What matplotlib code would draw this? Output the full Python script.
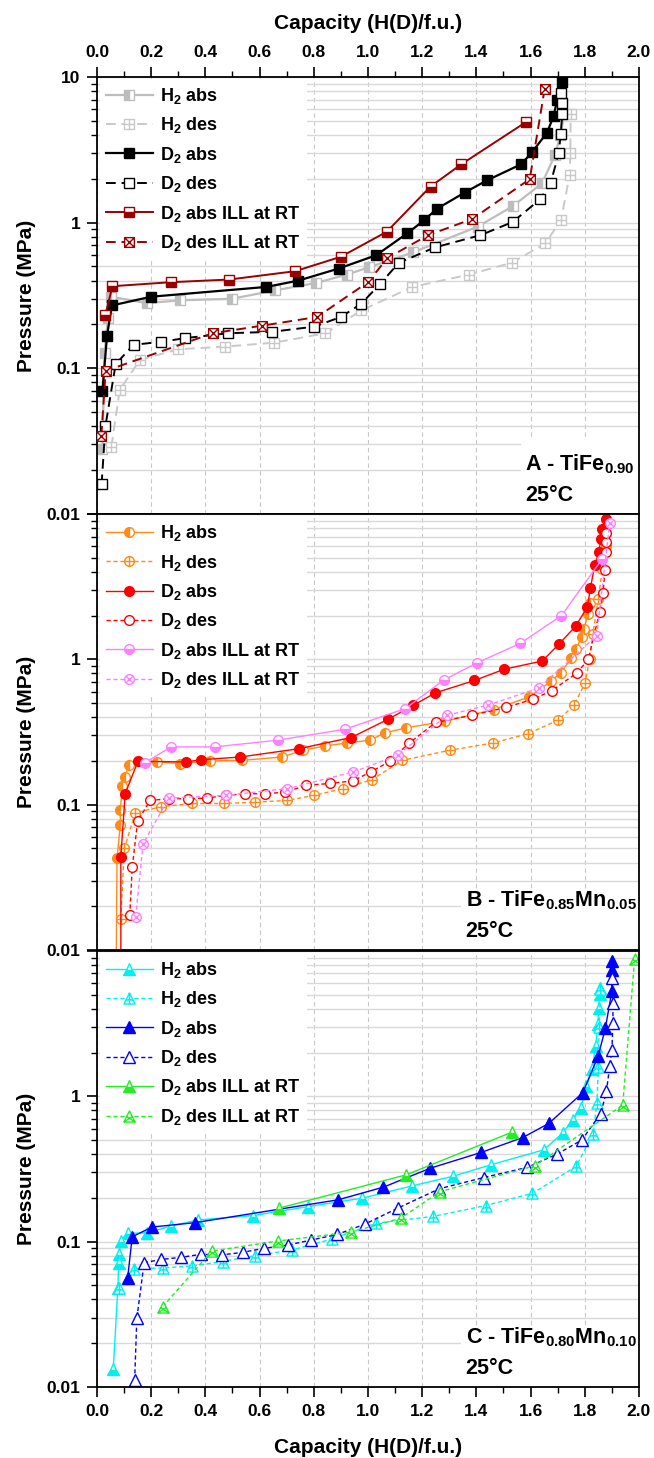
import matplotlib
matplotlib.use('Agg')
import matplotlib.pyplot as plt
from matplotlib.path import Path
from matplotlib.patches import Rectangle
from matplotlib.ticker import FixedLocator, FixedFormatter, MultipleLocator, NullFormatter

plt.rcParams['font.family'] = 'Liberation Sans'
plt.rcParams['font.weight'] = 'bold'
plt.rcParams['mathtext.fontset'] = 'custom'
plt.rcParams['mathtext.rm'] = 'Liberation Sans:bold'
plt.rcParams['mathtext.it'] = 'Liberation Sans:bold'
plt.rcParams['mathtext.bf'] = 'Liberation Sans:bold'
plt.rcParams['mathtext.default'] = 'rm'

# ---- panel A : TiFe0.90 ----
A_h2_abs_x = [0.020, 0.028, 0.040, 0.052, 0.183, 0.308, 0.497, 0.658, 0.810, 0.922, 1.004, 1.166, 1.406, 1.535, 1.642, 1.690, 1.710, 1.725]
A_h2_abs_p = [0.028, 0.127, 0.22, 0.31, 0.28, 0.293, 0.30, 0.343, 0.386, 0.44, 0.494, 0.625, 0.94, 1.30, 1.86, 2.9, 4.0, 5.6]
A_h2_des_x = [0.053, 0.084, 0.158, 0.299, 0.473, 0.655, 0.843, 0.976, 1.164, 1.373, 1.530, 1.655, 1.713, 1.744, 1.747, 1.748]
A_h2_des_p = [0.029, 0.071, 0.114, 0.135, 0.141, 0.150, 0.174, 0.25, 0.362, 0.44, 0.53, 0.72, 1.05, 2.12, 3.02, 5.6]
A_d2_abs_x = [0.020, 0.037, 0.055, 0.200, 0.625, 0.743, 0.892, 1.031, 1.145, 1.208, 1.253, 1.357, 1.439, 1.566, 1.607, 1.661, 1.685, 1.698, 1.715]
A_d2_abs_p = [0.070, 0.167, 0.27, 0.31, 0.362, 0.40, 0.484, 0.598, 0.845, 1.04, 1.24, 1.61, 1.95, 2.52, 3.07, 4.15, 5.4, 6.9, 9.2]
A_d2_des_x = [0.017, 0.031, 0.069, 0.135, 0.238, 0.324, 0.484, 0.645, 0.801, 0.900, 0.976, 1.046, 1.114, 1.246, 1.415, 1.534, 1.636, 1.674, 1.704, 1.711, 1.717, 1.717, 1.714]
A_d2_des_p = [0.016, 0.040, 0.107, 0.145, 0.152, 0.161, 0.174, 0.178, 0.193, 0.225, 0.278, 0.382, 0.530, 0.675, 0.82, 1.01, 1.45, 1.87, 2.99, 4.04, 5.57, 6.67, 7.8]
A_ill_abs_x = [0.031, 0.057, 0.273, 0.489, 0.731, 0.900, 1.069, 1.231, 1.345, 1.585]
A_ill_abs_p = [0.233, 0.366, 0.39, 0.407, 0.464, 0.583, 0.865, 1.77, 2.52, 4.93]
A_ill_des_x = [0.016, 0.032, 0.427, 0.608, 0.812, 1.000, 1.072, 1.222, 1.385, 1.597, 1.652]
A_ill_des_p = [0.0345, 0.096, 0.174, 0.196, 0.225, 0.39, 0.572, 0.82, 1.06, 1.99, 8.3]

# ---- panel B : TiFe0.85Mn0.05 ----
B_h2_abs_x = [0.070, 0.074, 0.086, 0.086, 0.094, 0.104, 0.117, 0.222, 0.308, 0.418, 0.536, 0.682, 0.761, 0.843, 0.923, 1.008, 1.061, 1.141, 1.286, 1.464, 1.596, 1.677, 1.711, 1.751, 1.769, 1.788, 1.797, 1.812, 1.818]
B_h2_abs_p = [0.005, 0.043, 0.072, 0.092, 0.135, 0.155, 0.189, 0.197, 0.192, 0.20, 0.202, 0.213, 0.237, 0.254, 0.266, 0.278, 0.312, 0.338, 0.376, 0.452, 0.553, 0.71, 0.81, 1.02, 1.18, 1.43, 1.63, 2.05, 2.43]
B_h2_des_x = [0.088, 0.101, 0.141, 0.238, 0.352, 0.467, 0.582, 0.701, 0.801, 0.909, 1.015, 1.127, 1.302, 1.462, 1.592, 1.702, 1.761, 1.801, 1.818, 1.830, 1.850, 1.865, 1.880]
B_h2_des_p = [0.0164, 0.050, 0.088, 0.097, 0.102, 0.102, 0.104, 0.107, 0.116, 0.129, 0.149, 0.202, 0.237, 0.266, 0.309, 0.382, 0.484, 0.69, 1.0, 1.5, 2.6, 4.2, 6.0]
B_d2_abs_x = [0.088, 0.088, 0.104, 0.151, 0.328, 0.385, 0.529, 0.746, 0.938, 1.075, 1.168, 1.249, 1.393, 1.502, 1.643, 1.704, 1.766, 1.810, 1.821, 1.837, 1.852, 1.859, 1.864, 1.877]
B_d2_abs_p = [0.005, 0.044, 0.119, 0.199, 0.197, 0.204, 0.213, 0.243, 0.29, 0.388, 0.484, 0.589, 0.716, 0.855, 0.975, 1.27, 1.69, 2.3, 3.11, 4.46, 5.45, 6.7, 7.85, 9.3]
B_d2_des_x = [0.121, 0.130, 0.150, 0.196, 0.265, 0.335, 0.405, 0.477, 0.548, 0.621, 0.695, 0.772, 0.860, 0.945, 1.010, 1.081, 1.150, 1.250, 1.384, 1.510, 1.609, 1.678, 1.772, 1.813, 1.855, 1.867, 1.875, 1.880, 1.877, 1.880]
B_d2_des_p = [0.0173, 0.037, 0.077, 0.107, 0.11, 0.11, 0.111, 0.116, 0.119, 0.119, 0.122, 0.136, 0.14, 0.146, 0.168, 0.199, 0.264, 0.368, 0.413, 0.467, 0.533, 0.608, 0.81, 1.0, 2.13, 2.85, 4.12, 5.45, 6.44, 7.43]
B_ill_abs_x = [0.176, 0.273, 0.434, 0.668, 0.916, 1.138, 1.279, 1.402, 1.562, 1.714, 1.864]
B_ill_abs_p = [0.194, 0.25, 0.25, 0.278, 0.331, 0.459, 0.72, 0.945, 1.29, 2.0, 4.9]
B_ill_des_x = [0.143, 0.170, 0.265, 0.476, 0.702, 0.945, 1.110, 1.292, 1.442, 1.630, 1.844, 1.892]
B_ill_des_p = [0.017, 0.054, 0.111, 0.116, 0.129, 0.168, 0.219, 0.413, 0.484, 0.635, 1.45, 8.7]

# ---- panel C : TiFe0.80Mn0.10 ----
C_h2_abs_x = [0.060, 0.077, 0.080, 0.081, 0.088, 0.114, 0.185, 0.273, 0.372, 0.575, 0.777, 0.978, 1.164, 1.312, 1.454, 1.649, 1.718, 1.757, 1.785, 1.806, 1.827, 1.840, 1.849, 1.851, 1.855, 1.858]
C_h2_abs_p = [0.0132, 0.048, 0.071, 0.082, 0.101, 0.114, 0.115, 0.128, 0.141, 0.151, 0.174, 0.199, 0.242, 0.281, 0.338, 0.428, 0.558, 0.69, 0.83, 1.17, 1.53, 2.2, 3.12, 4.06, 5.03, 5.6]
C_h2_des_x = [0.081, 0.137, 0.245, 0.352, 0.464, 0.583, 0.720, 0.866, 1.031, 1.240, 1.434, 1.607, 1.768, 1.830, 1.845, 1.850, 1.853, 1.858]
C_h2_des_p = [0.048, 0.065, 0.066, 0.068, 0.073, 0.080, 0.0876, 0.104, 0.134, 0.149, 0.177, 0.215, 0.329, 0.547, 0.9, 1.6, 3.0, 5.5]
C_d2_abs_x = [0.113, 0.130, 0.203, 0.361, 0.890, 1.057, 1.230, 1.418, 1.571, 1.667, 1.793, 1.849, 1.876, 1.900, 1.900, 1.900]
C_d2_abs_p = [0.056, 0.108, 0.126, 0.135, 0.194, 0.237, 0.32, 0.411, 0.52, 0.65, 1.06, 1.88, 2.93, 5.3, 7.4, 8.5]
C_d2_des_x = [0.139, 0.147, 0.174, 0.238, 0.311, 0.384, 0.460, 0.537, 0.617, 0.705, 0.791, 0.886, 0.989, 1.110, 1.263, 1.427, 1.587, 1.698, 1.789, 1.859, 1.880, 1.892, 1.900, 1.904, 1.904, 1.900]
C_d2_des_p = [0.0111, 0.0296, 0.0716, 0.0755, 0.078, 0.0818, 0.081, 0.0844, 0.090, 0.0948, 0.1026, 0.112, 0.132, 0.170, 0.231, 0.276, 0.324, 0.40, 0.50, 0.76, 1.08, 1.61, 2.07, 3.2, 4.4, 6.5]
C_ill_abs_x = [0.672, 1.141, 1.530]
C_ill_abs_p = [0.17, 0.288, 0.565]
C_ill_des_x = [0.242, 0.423, 0.667, 0.936, 1.121, 1.266, 1.615, 1.940, 1.984]
C_ill_des_p = [0.0356, 0.086, 0.101, 0.116, 0.145, 0.221, 0.332, 0.87, 8.8]

LABELS = ['H$_2$ abs', 'H$_2$ des', 'D$_2$ abs', 'D$_2$ des', 'D$_2$ abs ILL at RT', 'D$_2$ des ILL at RT']
PANEL_TITLES = ['A - TiFe$_{0.90}$', 'B - TiFe$_{0.85}$Mn$_{0.05}$', 'C - TiFe$_{0.80}$Mn$_{0.10}$']


def outline(shape):
    if shape == 's':
        return Path([(-1, -1), (1, -1), (1, 1), (-1, 1), (-1, -1)],
                    [Path.MOVETO, Path.LINETO, Path.LINETO, Path.LINETO, Path.CLOSEPOLY])
    if shape == 'o':
        return Path.unit_circle()
    return Path([(0, 1), (-1, -1), (1, -1), (0, 1)],
                [Path.MOVETO, Path.LINETO, Path.LINETO, Path.CLOSEPOLY])


def crossed(shape, inner):
    # hollow marker with a + or x drawn inside
    codes = [Path.MOVETO, Path.LINETO, Path.MOVETO, Path.LINETO]
    if shape == '^':
        if inner == '+':
            v = [(0, 1), (0, -1), (-0.6, -0.25), (0.6, -0.25)]
        else:
            v = [(-1, -1), (0.5, 0), (1, -1), (-0.5, 0)]
    else:
        a = 1.0 if shape == 's' else 0.707
        if inner == '+':
            v = [(0, -1), (0, 1), (-1, 0), (1, 0)]
        else:
            v = [(-a, -a), (a, a), (-a, a), (a, -a)]
    return Path.make_compound_path(outline(shape), Path(v, codes))


def draw(ax, x, p, color, ls, shape, style, lw, ms, label, z=2):
    kw = dict(color=color, ls=ls, lw=lw, ms=ms, mew=1.0, mec=color, label=label, zorder=z)
    if style == 'full':
        kw.update(marker=shape, mfc=color)
    elif style == 'open':
        kw.update(marker=shape, mfc='white')
    elif style in ('left', 'bottom'):
        kw.update(marker=shape, fillstyle=style, mfc=color, markerfacecoloralt='white')
    else:
        kw.update(marker=crossed(shape, style), mfc='white')
    ax.plot(x, p, **kw)


fig = plt.figure(figsize=(6.54, 14.58), dpi=100)
L, W = 0.1483, 0.8287
axA = fig.add_axes([L, 0.6475, W, 0.2997])
axB = fig.add_axes([L, 0.3484, W, 0.2990])
axC = fig.add_axes([L, 0.0487, W, 0.2991])

dash_a = (0, (5, 3))
dash_bc = (0, (3, 2))
gray1, gray2, dred = '#BDBDBD', '#C9C9C9', '#990000'
draw(axA, A_h2_abs_x, A_h2_abs_p, gray1, '-', 's', 'left', 1.6, 7, LABELS[0])
draw(axA, A_h2_des_x, A_h2_des_p, gray2, dash_a, 's', '+', 1.4, 7, LABELS[1])
draw(axA, A_d2_abs_x, A_d2_abs_p, 'black', '-', 's', 'full', 1.6, 7, LABELS[2], 3)
draw(axA, A_d2_des_x, A_d2_des_p, 'black', dash_a, 's', 'open', 1.4, 7, LABELS[3], 3)
draw(axA, A_ill_abs_x, A_ill_abs_p, dred, '-', 's', 'bottom', 1.4, 7, LABELS[4], 3)
draw(axA, A_ill_des_x, A_ill_des_p, dred, dash_a, 's', 'x', 1.4, 7, LABELS[5], 3)

orange, red, pink = '#FF8C1A', '#FF0000', '#FF80FF'
draw(axB, B_h2_abs_x, B_h2_abs_p, orange, '-', 'o', 'left', 1.0, 7, LABELS[0])
draw(axB, B_h2_des_x, B_h2_des_p, orange, dash_bc, 'o', '+', 1.0, 7, LABELS[1])
draw(axB, B_d2_abs_x, B_d2_abs_p, red, '-', 'o', 'full', 1.0, 7, LABELS[2])
draw(axB, B_d2_des_x, B_d2_des_p, red, dash_bc, 'o', 'open', 1.0, 7, LABELS[3])
draw(axB, B_ill_abs_x, B_ill_abs_p, pink, '-', 'o', 'bottom', 1.0, 7, LABELS[4])
draw(axB, B_ill_des_x, B_ill_des_p, pink, dash_bc, 'o', 'x', 1.0, 7, LABELS[5])

cyan, blue, green = '#00F0F0', '#0000FF', '#22EE22'
draw(axC, C_h2_abs_x, C_h2_abs_p, cyan, '-', '^', 'bottom', 1.0, 8, LABELS[0])
draw(axC, C_h2_des_x, C_h2_des_p, cyan, dash_bc, '^', '+', 1.0, 8, LABELS[1])
draw(axC, C_d2_abs_x, C_d2_abs_p, blue, '-', '^', 'full', 1.0, 8, LABELS[2])
draw(axC, C_d2_des_x, C_d2_des_p, blue, dash_bc, '^', 'open', 1.0, 8, LABELS[3])
draw(axC, C_ill_abs_x, C_ill_abs_p, green, '-', '^', 'bottom', 1.0, 8, LABELS[4])
draw(axC, C_ill_des_x, C_ill_des_p, green, dash_bc, '^', 'x', 1.0, 8, LABELS[5])

box_x = [0.782, 0.671, 0.671]
box_h = [0.176, 0.14, 0.135]
text_x = [0.79, 0.68, 0.68]
for i, ax in enumerate([axA, axB, axC]):
    ax.set_yscale('log')
    ax.set_xlim(0, 2)
    ax.set_ylim(0.01, 10)
    ax.set_axisbelow(True)
    ax.yaxis.set_major_locator(FixedLocator([0.01, 0.1, 1, 10]))
    ylabs = ['0.01', '0.1', '1', '10'] if i == 0 else ['0.01', '0.1', '1', '']
    ax.yaxis.set_major_formatter(FixedFormatter(ylabs))
    minors = [m * 10.0 ** e for e in (-2, -1, 0) for m in range(2, 10)]
    ax.yaxis.set_minor_locator(FixedLocator(minors))
    ax.yaxis.set_minor_formatter(NullFormatter())
    ax.xaxis.set_major_locator(MultipleLocator(0.2))
    ax.xaxis.set_minor_locator(MultipleLocator(0.1))
    ax.xaxis.set_major_formatter(matplotlib.ticker.FormatStrFormatter('%.1f'))
    ax.grid(True, which='both', axis='y', color='#D9D9D9', lw=1.0, ls='-')
    ax.grid(True, which='major', axis='x', color='#C8C8C8', lw=0.8, ls=(0, (4, 3)))
    ax.tick_params(axis='both', which='major', direction='out', length=7, width=1.2, labelsize=12.5, pad=5)
    ax.tick_params(axis='both', which='minor', direction='out', length=4, width=1.0)
    for s in ax.spines.values():
        s.set_linewidth(1.3)
    ax.set_ylabel('Pressure (MPa)', fontsize=15, fontweight='bold')
    ax.yaxis.set_label_coords(-0.113, 0.5)
    ax.add_patch(Rectangle((box_x[i], 0), 1 - box_x[i], box_h[i], transform=ax.transAxes,
                           facecolor='white', edgecolor='none', zorder=1))
    ax.text(text_x[i], 0.10, PANEL_TITLES[i], transform=ax.transAxes, fontsize=15.5,
            fontweight='bold', va='baseline', zorder=4)
    ax.text(text_x[i], 0.03, '25°C', transform=ax.transAxes, fontsize=15.5,
            fontweight='bold', va='baseline', zorder=4)
    leg = ax.legend(loc='upper left', fontsize=13, frameon=True, facecolor='white', edgecolor='none',
                    framealpha=1, fancybox=False, handlelength=2.6, handletextpad=0.4,
                    labelspacing=0.52, borderaxespad=0.15, borderpad=0.35)
    leg.get_frame().set_linewidth(0)

axA.xaxis.tick_top()
axA.xaxis.set_label_position('top')
axA.tick_params(axis='x', which='both', bottom=False, top=True, labeltop=True, labelbottom=False)
axA.set_xlabel('Capacity (H(D)/f.u.)', fontsize=15, fontweight='bold', labelpad=12)
axB.tick_params(axis='x', which='both', bottom=False, top=False, labelbottom=False)
axC.set_xlabel('Capacity (H(D)/f.u.)', fontsize=15, fontweight='bold', labelpad=14)

fig.savefig('out.png', dpi=100)
